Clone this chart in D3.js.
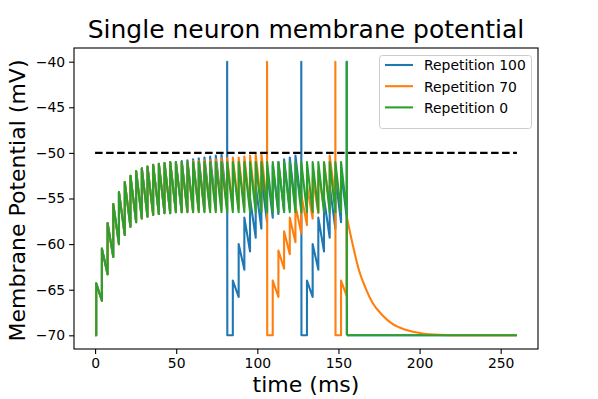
<!DOCTYPE html>
<html>
<head>
<meta charset="utf-8">
<title>Single neuron membrane potential</title>
<script src="https://d3js.org/d3.v7.min.js"></script>
<style>
  body { margin: 0; background: #fff; }
  text { font-family: "DejaVu Sans", sans-serif; fill: #000; }
</style>
</head>
<body>
<div id="graph"></div>
<script>
// input pulse times (ms)
var pulseTimes = [0.7, 4.2, 7.7, 11.2, 14.7, 18.3, 21.8, 25.3, 28.8, 32.3,
  35.8, 39.3, 42.8, 46.3, 49.8, 53.4, 56.9, 60.4, 63.9, 67.4,
  70.9, 74.4, 77.9, 81.4, 84.9, 88.5, 92.0, 95.5, 99.0, 102.5,
  106.0, 109.5, 113.0, 116.5, 120.0, 123.5, 127.1, 130.6, 134.1, 137.6,
  141.1, 144.6, 148.1, 151.6, 155.1];

// value just after each pulse (mV); -40 marks a spike
var greenPeak = [-64.3, -60.5, -57.7, -55.6, -54.3, -53.2, -52.5, -52.0, -51.7, -51.5,
  -51.3, -51.2, -51.1, -51.0, -51.0, -51.0, -51.0, -51.0, -51.0, -51.0,
  -51.0, -51.0, -51.0, -51.0, -51.0, -51.0, -51.0, -51.0, -51.0, -51.0,
  -51.0, -51.0, -51.0, -51.0, -51.0, -51.0, -51.0, -51.0, -51.0, -51.0,
  -51.0, -51.0, -51.0, -51.0, -40];
// value just before the next pulse (mV)
var greenTrough = [-66.2, -63.3, -61.4, -60.0, -59.0, -58.1, -57.6, -57.2, -57.0, -56.8,
  -56.7, -56.6, -56.6, -56.5, -56.5, -56.5, -56.5, -56.5, -56.5, -56.5,
  -56.5, -56.5, -56.5, -56.5, -56.5, -56.5, -56.5, -56.5, -56.5, -56.5,
  -56.5, -56.5, -56.5, -56.5, -56.5, -56.5, -56.5, -56.5, -56.5, -56.5,
  -56.5, -56.5, -56.5, -56.5];

var bluePeak = [-64.3, -60.5, -57.7, -55.6, -54.3, -53.2, -52.5, -52.0, -51.7, -51.5,
  -51.3, -51.2, -51.1, -51.0, -51.0, -50.9, -50.8, -50.7, -50.6, -50.5,
  -50.4, -50.3, -50.2, -40, -64.0, -60.0, -57.1, -55.0, -53.6, -52.6,
  -51.9, -51.4, -51.0, -50.7, -50.5, -50.3, -40, -64.0, -60.0, -57.1,
  -55.0, -53.6, -52.6, -51.9, -40];
var blueTrough = [-66.2, -63.3, -61.4, -60.0, -59.0, -58.1, -57.6, -57.2, -57.0, -56.8,
  -56.7, -56.6, -56.6, -56.5, -56.5, -56.4, -56.3, -56.2, -56.1, -56.0,
  -55.9, -55.8, -55.7, -70, -65.8, -62.8, -60.8, -59.3, -58.3, -57.6,
  -57.1, -56.7, -56.4, -56.2, -56.0, -55.8, -70, -65.8, -62.8, -60.8,
  -59.3, -58.3, -57.6, -57.1];

var orangePeak = [-64.3, -60.5, -57.7, -55.6, -54.3, -53.2, -52.5, -52.0, -51.7, -51.5,
  -51.3, -51.2, -51.1, -51.0, -51.0, -51.0, -51.0, -50.9, -50.9, -50.8,
  -50.8, -50.7, -50.6, -50.6, -50.5, -50.5, -50.4, -50.3, -50.2, -50.05,
  -40, -64.0, -60.7, -58.6, -57.1, -55.8, -54.6, -53.6, -52.7, -51.9,
  -51.1, -50.3, -40, -64.0, -57.0];
var orangeTrough = [-66.2, -63.3, -61.4, -60.0, -59.0, -58.1, -57.6, -57.2, -57.0, -56.8,
  -56.7, -56.6, -56.6, -56.5, -56.5, -56.5, -56.5, -56.4, -56.4, -56.3,
  -56.3, -56.2, -56.2, -56.1, -56.1, -56.0, -56.0, -55.9, -55.8, -55.7,
  -70, -65.8, -62.7, -61.1, -59.8, -58.8, -57.9, -57.2, -56.6, -56.1,
  -55.7, -55.3, -70, -65.7];

// after the last pulse (the orange one decays back to rest)
var orangeTailT = [158.6, 162.7, 166.9, 170.9, 177.1, 183.3, 191.5, 201.7, 212.0, 225.0, 260.0];
var orangeTailV = [-59.9, -62.9, -64.9, -66.4, -67.8, -68.75, -69.4, -69.8, -69.95, -70.0, -70.0];
var spikeTailT = [260.0];
var spikeTailV = [-70.0];

var seriesNames = ["Repetition 100", "Repetition 70", "Repetition 0"];
var colors = ["#1f77b4", "#ff7f0e", "#2ca02c"];
var threshold = -50;
var restV = -70, spikeV = -40, dt = 0.1;
var xTicks = [0, 50, 100, 150, 200, 250];
var yTicks = [-70, -65, -60, -55, -50, -45, -40];

function buildPoints(peaks, troughs) {
  var pts = [[0, restV], [pulseTimes[0], restV]];
  peaks.forEach(function(p, k) {
    var t = pulseTimes[k];
    if (k > 0) pts.push([t, troughs[k - 1]]);
    pts.push([t, p]);
    if (p === spikeV) pts.push([t + dt, restV]);
  });
  return pts;
}
function tailPoints(peaks, tailT, tailV) {
  var last = peaks.length - 1;
  var pts = peaks[last] === spikeV
    ? [[pulseTimes[last] + dt, restV]]
    : [[pulseTimes[last], peaks[last]]];
  tailT.forEach(function(t, i) { pts.push([t, tailV[i]]); });
  return pts;
}

var series = [
  { body: buildPoints(bluePeak, blueTrough), tail: tailPoints(bluePeak, spikeTailT, spikeTailV) },
  { body: buildPoints(orangePeak, orangeTrough), tail: tailPoints(orangePeak, orangeTailT, orangeTailV) },
  { body: buildPoints(greenPeak, greenTrough), tail: tailPoints(greenPeak, spikeTailT, spikeTailV) }
];

var W = 598, H = 399;
var mLeft = 74, mRight = 538, mTop = 48, mBottom = 349;

var xScale = d3.scaleLinear().domain([-13, 273]).range([mLeft, mRight]);
var yScale = d3.scaleLinear().domain([-71.5, -38.5]).range([mBottom, mTop]);

var svg = d3.select("#graph").append("svg")
  .attr("width", W).attr("height", H);
svg.append("rect").attr("width", W).attr("height", H).attr("fill", "#fff");

svg.append("clipPath").attr("id", "plotclip")
  .append("rect").attr("x", mLeft).attr("y", mTop)
  .attr("width", mRight - mLeft).attr("height", mBottom - mTop);

var line = d3.line().x(function(d) { return xScale(d[0]); })
  .y(function(d) { return yScale(d[1]); });
var smooth = d3.line().curve(d3.curveMonotoneX)
  .x(function(d) { return xScale(d[0]); })
  .y(function(d) { return yScale(d[1]); });

var plot = svg.append("g").attr("clip-path", "url(#plotclip)");
series.forEach(function(s, i) {
  var g = plot.append("g")
    .attr("fill", "none")
    .attr("stroke", colors[i])
    .attr("stroke-width", 2.1)
    .attr("stroke-linejoin", "round");
  g.append("path").datum(s.body).attr("d", line);
  g.append("path").datum(s.tail).attr("d", smooth);
});

plot.append("path")
  .datum([[0, threshold], [260, threshold]])
  .attr("d", line)
  .attr("fill", "none")
  .attr("stroke", "#000")
  .attr("stroke-width", 2.2)
  .attr("stroke-dasharray", "7.5,3.5");

// axes
var xAxis = d3.axisBottom(xScale).tickValues(xTicks).tickSize(4.9).tickPadding(4);
var yAxis = d3.axisLeft(yScale).tickValues(yTicks).tickSize(4.9).tickPadding(4)
  .tickFormat(function(d) { return String(d).replace("-", "\u2212"); });

var gx = svg.append("g").attr("transform", "translate(0," + mBottom + ")").call(xAxis);
var gy = svg.append("g").attr("transform", "translate(" + mLeft + ",0)").call(yAxis);
[gx, gy].forEach(function(g) {
  g.select(".domain").remove();
  g.selectAll("line").attr("stroke", "#000").attr("stroke-width", 1.1);
  g.selectAll("text").attr("font-family", "DejaVu Sans").attr("font-size", "13.9px").attr("fill", "#000");
});

svg.append("rect")
  .attr("x", mLeft).attr("y", mTop)
  .attr("width", mRight - mLeft).attr("height", mBottom - mTop)
  .attr("fill", "none").attr("stroke", "#000").attr("stroke-width", 1.1);

// titles
svg.append("text").attr("x", (mLeft + mRight) / 2).attr("y", 37.5)
  .attr("text-anchor", "middle").attr("font-size", "25px")
  .text("Single neuron membrane potential");
svg.append("text").attr("x", (mLeft + mRight) / 2).attr("y", 392)
  .attr("text-anchor", "middle").attr("font-size", "22px")
  .text("time (ms)");
svg.append("text")
  .attr("transform", "translate(24.5," + ((mTop + mBottom) / 2 + 2) + ") rotate(-90)")
  .attr("text-anchor", "middle").attr("font-size", "22px")
  .text("Membrane Potential (mV)");

// legend
var lg = svg.append("g");
lg.append("rect").attr("x", 379.5).attr("y", 55.5).attr("width", 152).attr("height", 73)
  .attr("rx", 2.8).attr("fill", "#fff").attr("fill-opacity", 0.8)
  .attr("stroke", "#cccccc").attr("stroke-width", 1);
seriesNames.forEach(function(name, i) {
  var y = 65 + i * 21.2;
  lg.append("line").attr("x1", 385).attr("x2", 413).attr("y1", y).attr("y2", y)
    .attr("stroke", colors[i]).attr("stroke-width", 2.1);
  lg.append("text").attr("x", 424).attr("y", y + 5.3)
    .attr("font-size", "13.9px").text(name);
});
</script>
</body>
</html>
